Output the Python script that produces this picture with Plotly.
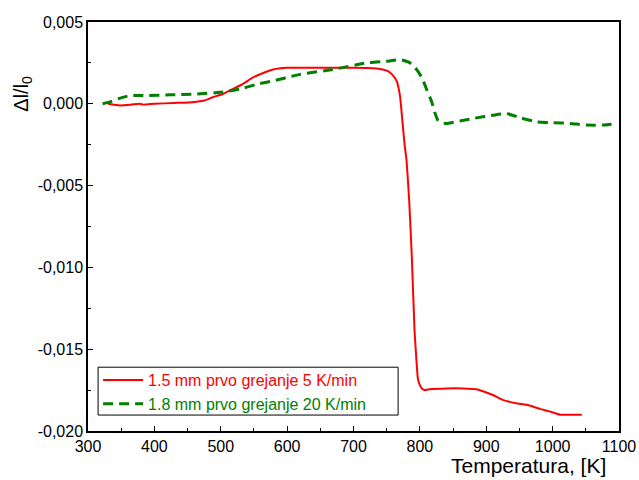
import plotly.graph_objects as go

# Dilatometric curve, 1.5 mm sample, first heating at 5 K/min
t_red = [330, 348, 365, 378, 383, 400, 430, 458, 475, 488, 503, 518, 533, 548, 565, 579, 600,
         650, 700, 730, 744, 752, 758, 765, 770, 774, 777, 780, 784, 788, 792, 795, 797, 800,
         803, 807, 815, 840, 865, 885, 897, 910, 925, 945, 961, 981, 995, 1011, 1025, 1044]
d_red = [0.0, -0.0001, -0.00005, 0.0, -0.00005, 0.0, 0.00005, 0.0001, 0.0002, 0.0004, 0.0006,
         0.0009, 0.0012, 0.0016, 0.0019, 0.0021, 0.0022,
         0.0022, 0.0022, 0.00218, 0.0021, 0.0020, 0.0018, 0.0014, 0.0005, -0.0012, -0.0025,
         -0.0035, -0.006, -0.0095, -0.0139, -0.0158, -0.0168, -0.0172,
         -0.0174, -0.0175, -0.01745, -0.0174, -0.0174, -0.01745, -0.0176, -0.0178, -0.0181,
         -0.0183, -0.0184, -0.01865, -0.0188, -0.0190, -0.0190, -0.0190]

# Dilatometric curve, 1.8 mm sample, first heating at 20 K/min
t_green = [322, 332, 345, 363, 389, 423, 464, 499, 529, 555, 579, 609, 619, 669, 720, 750, 770,
           785, 795, 803, 810, 818, 823, 827, 833, 840, 860, 880, 910, 931, 951, 976, 1001,
           1026, 1051, 1076, 1098]
d_green = [0.0, 0.0001, 0.0003, 0.0005, 0.0005, 0.00055, 0.0006, 0.0007, 0.0009, 0.0012, 0.0014,
           0.0017, 0.0018, 0.0021, 0.0025, 0.0026, 0.0027,
           0.0025, 0.0021, 0.0016, 0.0009, 0.0001, -0.0006, -0.001, -0.00118, -0.0012, -0.00105,
           -0.0009, -0.0007, -0.0006, -0.00085, -0.0011, -0.00115,
           -0.0012, -0.0013, -0.0013, -0.0012]

x_ticks = [300, 400, 500, 600, 700, 800, 900, 1000, 1100]
y_ticks = [0.005, 0.0, -0.005, -0.010, -0.015, -0.020]
y_ticktext = ["0,005", "0,000", "-0,005", "-0,010", "-0,015", "-0,020"]

red_label = "1.5 mm prvo grejanje 5 K/min"
green_label = "1.8 mm prvo grejanje 20 K/min"

FONT = "Liberation Sans, Arial, sans-serif"

fig = go.Figure()
fig.add_trace(go.Scatter(
    x=t_red, y=d_red, mode="lines",
    name=f"<span style='color:#ff0000'>{red_label}</span>",
    line=dict(color="#ff0000", width=2, shape="spline", smoothing=0.4),
))
fig.add_trace(go.Scatter(
    x=t_green, y=d_green, mode="lines",
    name=f"<span style='color:#008000'>{green_label}</span>",
    line=dict(color="#008000", width=3, dash="10px,6px", shape="spline", smoothing=0.5),
))

axis_common = dict(
    showline=True, linecolor="black", linewidth=1.5, mirror=True,
    ticks="inside", ticklen=5, tickwidth=1, tickcolor="black",
    showgrid=False, zeroline=False, automargin=False,
    tickfont=dict(family=FONT, size=16, color="black"),
)

fig.update_xaxes(
    range=[300, 1100], tickvals=x_ticks,
    minor=dict(ticks="inside", ticklen=3, dtick=50, tick0=300, tickcolor="black"),
    **axis_common,
)
fig.update_yaxes(
    range=[-0.020, 0.005], tickvals=y_ticks, ticktext=y_ticktext,
    minor=dict(ticks="inside", ticklen=3, dtick=0.0025, tick0=0, tickcolor="black"),
    **axis_common,
)

fig.add_annotation(
    text="Temperatura, [K]", xref="paper", yref="paper", x=0.979, y=-0.118,
    xanchor="right", yanchor="bottom", showarrow=False,
    font=dict(family=FONT, size=21, color="black"),
)
fig.add_annotation(
    text="Δl/l<sub>0</sub>", xref="paper", yref="paper", x=-0.124, y=0.825,
    xanchor="center", yanchor="middle", showarrow=False, textangle=-90,
    font=dict(family=FONT, size=20, color="black"),
)

# framed white box behind the legend entries
fig.add_shape(
    type="rect", xref="paper", yref="paper",
    x0=0.019, x1=0.584, y0=0.039, y1=0.156,
    line=dict(color="black", width=1), fillcolor="white", layer="above",
)

fig.update_layout(
    width=639, height=480,
    margin=dict(l=88, r=20, t=22, b=49),
    plot_bgcolor="white", paper_bgcolor="white",
    showlegend=True,
    legend=dict(
        x=0.019, y=0.166, xanchor="left", yanchor="top",
        bgcolor="rgba(0,0,0,0)", borderwidth=0,
        font=dict(family=FONT, size=16),
        tracegroupgap=0, itemwidth=40,
    ),
)

fig.write_html("out.html")
